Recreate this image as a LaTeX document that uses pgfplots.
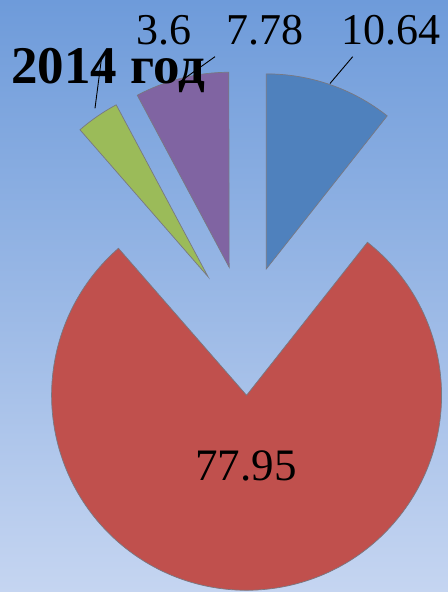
\documentclass[border=0pt]{standalone}
\usepackage{fontspec}
\setmainfont{Liberation Serif}
\usepackage{pgfplots}
\usepackage{pgfplotstable}
\pgfplotsset{compat=1.18}
\usetikzlibrary{calc}
\definecolor{slice0}{HTML}{4F81BD}
\definecolor{slice1}{HTML}{C0504D}
\definecolor{slice2}{HTML}{9BBB59}
\definecolor{slice3}{HTML}{8064A2}
\definecolor{bgtop}{RGB}{110,155,218}
\definecolor{bgbot}{RGB}{197,213,241}
\definecolor{edge}{RGB}{120,120,130}

\pgfplotstableread{
name value
A 10.64
B 77.95
C 3.6
D 7.78
}\piedata

\begin{document}
\begin{tikzpicture}
\gdef\cum{90}
\foreach \i in {0,1,2,3}{%
  \pgfplotstablegetelem{\i}{value}\of\piedata
  \pgfmathsetmacro\s{\cum}%
  \pgfmathsetmacro\e{\cum-3.6*\pgfplotsretval}%
  \pgfmathsetmacro\m{(\s+\e)/2}%
  \expandafter\xdef\csname ps\i\endcsname{\s}%
  \expandafter\xdef\csname pe\i\endcsname{\e}%
  \expandafter\xdef\csname pm\i\endcsname{\m}%
  \xdef\cum{\e}%
}
\begin{axis}[
  scale only axis,
  width=448bp, height=592bp,
  xmin=0, xmax=448, ymin=0, ymax=592,
  hide axis,
]
\fill[top color=bgtop, bottom color=bgbot] (axis cs:0,0) rectangle (axis cs:448,592);
\pgfplotsinvokeforeach{0,1,2,3}{
  \filldraw[fill=slice#1, draw=edge, line width=0.7bp]
    ($(axis cs:245,261.7)+(\csname pm#1\endcsname:65bp)$)
    -- ++(\csname ps#1\endcsname:195bp)
    arc[start angle=\csname ps#1\endcsname, end angle=\csname pe#1\endcsname, radius=195bp]
    -- cycle;
}
% leader lines
\addplot[black, line width=0.9bp, no marks] coordinates {(352.7,535.3) (330,508.5)};
\addplot[black, line width=0.9bp, no marks] coordinates {(215,535.3) (180,510.3)};
\addplot[black, line width=0.9bp, no marks] coordinates {(101.7,535.3) (95,483.7)};
% data labels
\node[anchor=base, inner sep=0pt, font=\fontsize{44bp}{50bp}\selectfont] at (axis cs:391,547) {10.64};
\node[anchor=base, inner sep=0pt, font=\fontsize{44bp}{50bp}\selectfont] at (axis cs:265.3,547) {7.78};
\node[anchor=base, inner sep=0pt, font=\fontsize{44bp}{50bp}\selectfont] at (axis cs:164.3,547) {3.6};
\node[anchor=base, inner sep=0pt, font=\fontsize{45bp}{50bp}\selectfont] at (axis cs:246,111.3) {77.95};
% title
\node[anchor=base west, inner sep=0pt, font=\fontsize{53bp}{60bp}\selectfont\bfseries] at (axis cs:11,508.7) {2014 год};
\end{axis}
\end{tikzpicture}
\end{document}
